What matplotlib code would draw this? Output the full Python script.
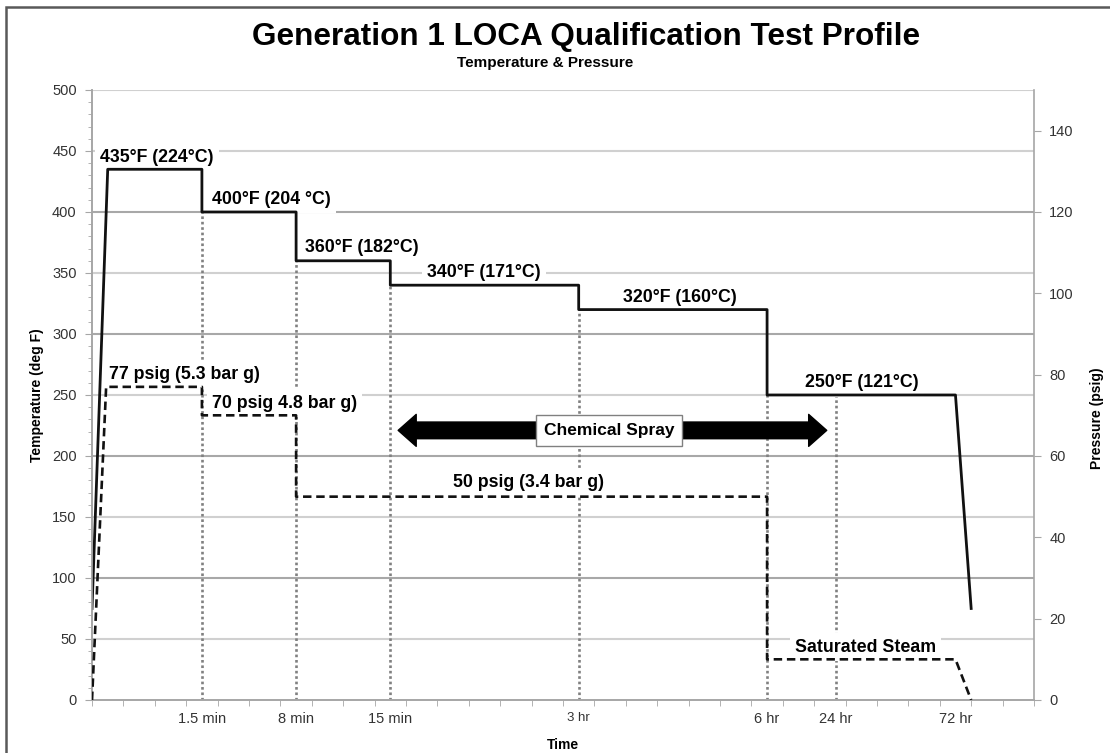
import matplotlib.pyplot as plt
from matplotlib.patches import Rectangle
from matplotlib.ticker import MultipleLocator

plt.rcParams['font.family'] = ['Liberation Sans', 'DejaVu Sans']

# temperature profile (deg F) against position on the time axis
temp_x = [0, 0.5, 3.5, 3.5, 6.5, 6.5, 9.5, 9.5, 15.5, 15.5, 21.5, 21.5, 27.5, 28.0]
temp_y = [75, 435, 435, 400, 400, 360, 360, 340, 340, 320, 320, 250, 250, 75]

# pressure profile (psig)
pres_x = [0, 0.45, 3.5, 3.5, 6.5, 6.5, 21.5, 21.5, 27.5, 28.0]
pres_y = [0, 77, 77, 70, 70, 50, 50, 10, 10, 0]

# time axis labels
time_pos = [3.5, 6.5, 9.5, 15.5, 21.5, 23.7, 27.5]
time_labels = ['1.5 min', '8 min', '15 min', '3 hr', '6 hr', '24 hr', '72 hr']

# dotted drop lines: x and top (deg F)
drop_x = [3.5, 6.5, 9.5, 15.5, 21.5, 23.7]
drop_top = [400, 360, 340, 320, 250, 250]

# step labels
temp_labels = ['435°F (224°C)', '400°F (204 °C)', '360°F (182°C)',
               '340°F (171°C)', '320°F (160°C)', '250°F (121°C)']
temp_label_x = [0.25, 3.82, 6.78, 10.67, 16.9, 22.7]
temp_label_y = [445, 410.5, 370.5, 350, 329.5, 260]

pres_labels = ['77 psig (5.3 bar g)', '70 psig 4.8 bar g)', '50 psig (3.4 bar g)', 'Saturated Steam']
pres_label_x = [0.54, 3.82, 11.5, 22.39]
pres_label_y = [80, 73, 53.6, 13]

# chemical spray span
spray_start, spray_end, spray_level = 9.75, 23.4, 221
spray_mid = 16.47

fig = plt.figure(figsize=(11.1, 7.53), dpi=100)
ax = fig.add_axes([0.0829, 0.0704, 0.8486, 0.8101])
ax2 = ax.twinx()

ax.set_xlim(0, 30)
ax.set_ylim(0, 500)
ax2.set_ylim(0, 150)

# gridlines, darker on the hundreds
for g in range(50, 501, 50):
    ax.axhline(g, color='#a8a8a8' if g % 100 == 0 and g < 500 else '#d0d0d0',
               lw=1.5, zorder=0.5)

for x, top in zip(drop_x, drop_top):
    ax.plot([x, x], [0, top], color='#808080', lw=1.9, ls=(0, (1, 1.05)), zorder=1)

ax.plot(temp_x, temp_y, color='#111111', lw=2.0, zorder=3)
ax2.plot(pres_x, pres_y, color='#111111', lw=1.9, dashes=(3.2, 1.8), zorder=3)

box = dict(boxstyle='square,pad=0.3', fc='white', ec='none')
for t, x, y in zip(temp_labels, temp_label_x, temp_label_y):
    ax.text(x, y, t, fontsize=12.8, fontweight='bold', ha='left', va='center',
            bbox=box, zorder=2)
for t, x, y in zip(pres_labels, pres_label_x, pres_label_y):
    ax2.text(x, y, t, fontsize=12.8, fontweight='bold', ha='left', va='center',
             bbox=box, zorder=2)

arrow = dict(arrowstyle='simple,head_length=0.65,head_width=1.15,tail_width=0.6',
             mutation_scale=20, fc='black', ec='black', shrinkA=0, shrinkB=0)
ax.annotate('', xy=(spray_start, spray_level), xytext=(spray_mid, spray_level),
            arrowprops=arrow, zorder=4)
ax.annotate('', xy=(spray_end, spray_level), xytext=(spray_mid, spray_level),
            arrowprops=arrow, zorder=4)
ax.text(spray_mid, spray_level, 'Chemical Spray', fontsize=12.5, fontweight='bold',
        ha='center', va='center', zorder=5,
        bbox=dict(boxstyle='square,pad=0.45', fc='white', ec='#808080', lw=1))

# axes styling
for a in (ax, ax2):
    for s in a.spines.values():
        s.set_color('#a6a6a6')
        s.set_linewidth(1.2)
    a.spines['top'].set_visible(False)
ax.spines['right'].set_visible(False)

ax.yaxis.set_major_locator(MultipleLocator(50))
ax.yaxis.set_minor_locator(MultipleLocator(10))
ax.tick_params(axis='y', which='major', length=5, color='#a6a6a6', labelsize=10.5,
               labelcolor='#333333', pad=6)
ax.tick_params(axis='y', which='minor', length=3, color='#a6a6a6')
ax2.set_yticks(range(0, 141, 20))
ax2.tick_params(axis='y', length=5, color='#a6a6a6', labelsize=10.5,
                labelcolor='#333333', pad=6)

ax.xaxis.set_minor_locator(MultipleLocator(1))
ax.set_xticks(time_pos)
ax.set_xticklabels(time_labels)
ax.tick_params(axis='x', which='major', length=0, labelsize=10.5,
               labelcolor='#333333', pad=9)
ax.tick_params(axis='x', which='minor', length=4, color='#a6a6a6')
ax.get_xticklabels()[3].set_fontsize(9.5)

fig.text(586 / 1110, 1 - 37 / 753, 'Generation 1 LOCA Qualification Test Profile',
         fontsize=22.7, fontweight='bold', ha='center', va='center')
fig.text(545 / 1110, 1 - 63 / 753, 'Temperature & Pressure',
         fontsize=11, fontweight='bold', ha='center', va='center')
fig.text(37 / 1110, 1 - 395 / 753, 'Temperature (deg F)', fontsize=10,
         fontweight='bold', rotation=90, ha='center', va='center')
fig.text(1097 / 1110, 1 - 418 / 753, 'Pressure (psig)', fontsize=10,
         fontweight='bold', rotation=90, ha='center', va='center')
fig.text(563 / 1110, 1 - 745 / 753, 'Time', fontsize=10, fontweight='bold',
         ha='center', va='center')

fig.patches.append(Rectangle((6 / 1110, -0.05), 1.2, 1.05 - 7 / 753,
                             transform=fig.transFigure, fill=False,
                             ec='#595959', lw=1.8))

fig.savefig('out.png', dpi=100)
